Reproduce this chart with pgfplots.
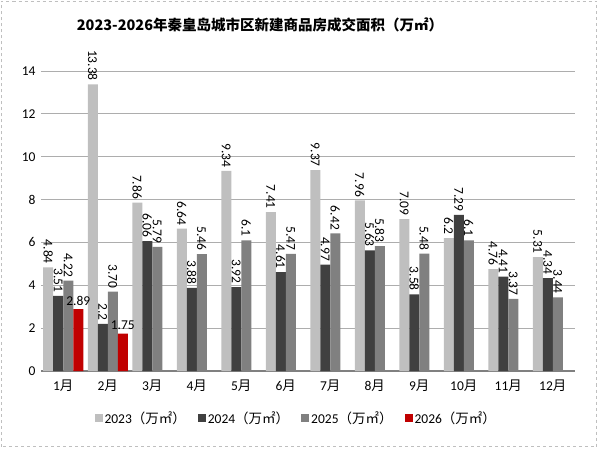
\documentclass[border=0pt]{standalone}
\usepackage{pgfplots}
\pgfplotsset{compat=1.18}
\usepackage{fontspec}
\setmainfont{Carlito}
\newfontfamily\cjk{Noto Sans CJK SC}
\definecolor{c23}{HTML}{BFBFBF}
\definecolor{c24}{HTML}{404040}
\definecolor{c25}{HTML}{808080}
\definecolor{c26}{HTML}{C00000}
\newcommand\yue{{\cjk 月}}
\newcommand\unit{{\cjk （万㎡）}}
\begin{document}
\begin{tikzpicture}[x=1pt,y=1pt]
\path[use as bounding box] (0,0) rectangle (598,448);
\draw[black!25, dashed, line width=0.6pt] (1.5,1.5) rectangle (596.5,446.5);
\node[font=\cjk\bfseries\fontsize{14.5}{16}\selectfont] at (260,423) {2023-2026年秦皇岛城市区新建商品房成交面积（万㎡）};
\begin{axis}[
  at={(41pt,77pt)}, anchor=south west,
  scale only axis, width=534pt, height=321.4pt,
  ymin=0, ymax=15, xmin=0.5, xmax=12.5,
  ytick={0,2,...,14},
  xtick={1,...,12},
  xticklabels={1\yue,2\yue,3\yue,4\yue,5\yue,6\yue,7\yue,8\yue,9\yue,10\yue,11\yue,12\yue},
  ymajorgrids, major grid style={color=black!32, line width=0.9pt},
  axis x line*=bottom, axis y line*=left,
  x axis line style={color=black!50, line width=1.6pt},
  y axis line style={draw=none},
  major tick length=0pt, tick style={draw=none},
  /pgf/number format/assume math mode=true,
  tick label style={font=\fontsize{13.5}{15}\selectfont, black},
  xticklabel style={yshift=-5pt},
  yticklabel style={xshift=-2pt},
  ybar=0pt, bar width=10pt,
  enlarge x limits=false,
  point meta=explicit symbolic,
  nodes near coords,
  every node near coord/.append style={font=\fontsize{13.5}{14}\selectfont, black},
  legend columns=4,
  legend style={at={(0.478,-0.146)}, anchor=center, draw=none, fill=none,
    font=\fontsize{13.5}{15}\selectfont,
    /tikz/every even column/.append style={column sep=10pt}},
  legend image code/.code={\fill[#1] (0pt,-4pt) rectangle (8pt,4pt);},
]
\addplot[fill=c23, draw=none, bar shift=-15pt,
  every node near coord/.append style={rotate=-90, anchor=east}]
  coordinates {(1,4.84)[4.84] (2,13.38)[13.38] (3,7.86)[7.86] (4,6.64)[6.64] (5,9.34)[9.34] (6,7.41)[7.41]
               (7,9.37)[9.37] (8,7.96)[7.96] (9,7.09)[7.09] (10,6.2)[6.2] (11,4.76)[4.76] (12,5.31)[5.31]};
\addlegendentry{2023\unit}
\addplot[fill=c24, draw=none, bar shift=-5pt,
  every node near coord/.append style={rotate=-90, anchor=east}]
  coordinates {(1,3.51)[3.51] (2,2.2)[2.2] (3,6.06)[6.06] (4,3.88)[3.88] (5,3.92)[3.92] (6,4.61)[4.61]
               (7,4.97)[4.97] (8,5.63)[5.63] (9,3.58)[3.58] (10,7.29)[7.29] (11,4.41)[4.41] (12,4.34)[4.34]};
\addlegendentry{2024\unit}
\addplot[fill=c25, draw=none, bar shift=5pt,
  every node near coord/.append style={rotate=-90, anchor=east}]
  coordinates {(1,4.22)[4.22] (2,3.70)[3.70] (3,5.79)[5.79] (4,5.46)[5.46] (5,6.1)[6.1] (6,5.47)[5.47]
               (7,6.42)[6.42] (8,5.83)[5.83] (9,5.48)[5.48] (10,6.1)[6.1] (11,3.37)[3.37] (12,3.44)[3.44]};
\addlegendentry{2025\unit}
\addplot[fill=c26, draw=none, bar shift=15pt,
  every node near coord/.append style={anchor=south}]
  coordinates {(1,2.89)[2.89] (2,1.75)[1.75]};
\addlegendentry{2026\unit}
\end{axis}
\end{tikzpicture}
\end{document}
